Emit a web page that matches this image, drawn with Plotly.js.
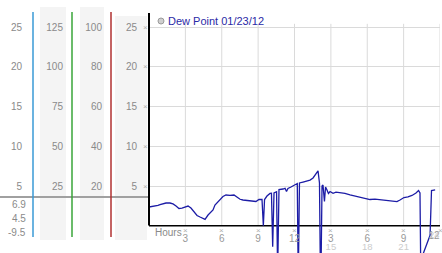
<!DOCTYPE html>
<html>
<head>
<meta charset="utf-8">
<script src="https://cdn.plot.ly/plotly-3.0.1.min.js"></script>
<style>html,body{margin:0;padding:0;background:#fff;}#chart{width:442px;height:253px;}</style>
</head>
<body>
<div id="chart"></div>
<script>
// ---- data ----
const hours = [0.00,0.25,0.49,0.74,0.91,1.15,1.40,1.73,1.98,2.23,2.47,2.72,2.97,3.22,3.46,3.71,3.96,4.21,4.45,4.62,
  4.87,5.11,5.28,5.44,5.61,5.86,6.10,6.35,6.68,7.01,7.26,7.51,7.75,8.08,8.49,8.82,9.07,9.32,9.43,9.53,
  9.73,9.98,10.10,10.20,10.31,10.52,10.61,10.72,11.05,11.22,11.34,11.46,11.71,12.04,12.23,12.31,12.41,12.70,13.03,13.28,
  13.53,13.69,13.86,13.94,14.06,14.16,14.27,14.35,14.47,14.56,14.68,14.80,14.93,15.18,15.42,15.75,16.16,16.58,16.99,17.40,
  17.81,18.23,18.64,19.05,19.46,19.88,20.21,20.45,20.70,21.03,21.36,21.69,22.02,22.23,22.35,22.43,22.52,23.18,23.30,23.60];
const dewPoint = [2.36,2.42,2.40,2.55,2.65,2.80,2.86,2.86,2.74,2.48,2.17,2.23,2.40,2.48,2.23,1.73,1.29,1.10,0.91,0.81,
  1.35,1.73,1.98,2.61,2.92,3.30,3.68,3.87,3.81,3.87,3.55,3.33,3.24,3.18,3.05,3.05,3.30,3.30,0.00,3.30,
  3.74,4.06,4.08,-2.64,4.12,4.28,-6.0,4.56,4.62,4.71,4.31,4.69,4.87,5.19,5.31,-7.0,5.38,5.50,5.63,5.75,
  6.01,6.32,6.70,6.90,5.38,-9.5,5.00,5.13,3.05,4.87,4.50,4.06,4.31,4.08,4.22,4.16,4.06,3.87,3.74,3.58,
  3.45,3.30,3.36,3.30,3.20,3.15,3.05,3.03,3.24,3.55,3.62,3.81,4.12,4.43,4.12,-8.0,-3.9,-1.2,4.43,4.50];
const legendLabel = 'Dew Point 01/23/12';
const dewTicks = [5, 10, 15, 20, 25];
const col2Ticks = [25, 50, 75, 100, 125];
const col3Ticks = [20, 40, 60, 80, 100];
const hourTicks = [3, 6, 9, 12, 15, 18, 21, 24];
const hourLabels = ['3', '6', '9', '12', '3', '6', '9', '12'];
const hourLabels2 = ['', '', '', '', '15', '18', '21', '24'];
const summaryLabels = ['6.9', '4.5', '-9.5'];

// ---- geometry helpers (pixel -> paper) ----
const W = 442, H = 253, ML = 0, MR = 2, MT = 13, MB = 0;
const PW = W - ML - MR, PH = H - MT - MB;
const fx = x => (x - ML) / PW;
const fy = y => (H - MB - y) / PH;
const yLo = -3.428, yHi = 26.761;

const FONT = 'Liberation Sans, Arial, sans-serif';
const lblFont = {family: FONT, size: 10, color: '#8a8a8a'};
const markFont = {family: FONT, size: 8, color: '#b0b0b0'};
const row1Font = {family: FONT, size: 10, color: '#999'};
const row2Font = {family: FONT, size: 9.5, color: '#cccccc'};

const traces = [
  {x: hours, y: dewPoint, type: 'scatter', mode: 'lines', line: {color: '#1c1ca6', width: 1.3}, showlegend: false, hoverinfo: 'none'}
];
['x2', 'x3', 'x4', 'x5'].forEach(a => traces.push({x: [], y: [], xaxis: a, yaxis: 'y', type: 'scatter', showlegend: false}));
['y2', 'y3', 'y4'].forEach(a => traces.push({x: [], y: [], xaxis: 'x', yaxis: a, type: 'scatter', showlegend: false}));

const shapes = [];
// shaded columns
[[40, 66, 7], [80, 104, 7], [115, 147, 16]].forEach(c => shapes.push({
  type: 'rect', xref: 'paper', yref: 'paper', x0: fx(c[0]), x1: fx(c[1]), y0: fy(240), y1: fy(c[2]),
  fillcolor: '#f4f4f4', line: {width: 0}, layer: 'below'}));
// separator
shapes.push({type: 'line', xref: 'paper', yref: 'paper', x0: fx(0), x1: fx(149), y0: fy(197), y1: fy(197), line: {color: '#a0a0a0', width: 2}});
// coloured axis lines
[[33, '#3a9ad6'], [72, '#3aa63a'], [111, '#b03030']].forEach(c => shapes.push({
  type: 'line', xref: 'paper', yref: 'paper', x0: fx(c[0]), x1: fx(c[0]), y0: fy(237), y1: fy(12), line: {color: c[1], width: 1.5}}));
// vertical grid
hourTicks.forEach(h => shapes.push({type: 'line', xref: 'x', yref: 'y', x0: h, x1: h, y0: 0, y1: 25.4, line: {color: '#dadada', width: 1}, layer: 'below'}));
// axis lines
shapes.push({type: 'line', xref: 'x', yref: 'y', x0: 0, x1: 24, y0: 0, y1: 0, line: {color: '#000', width: 1.6}, layer: 'below'});
shapes.push({type: 'line', xref: 'paper', yref: 'paper', x0: fx(149), x1: fx(149), y0: fy(225.5), y1: fy(13), line: {color: '#000', width: 2}});
// legend dot
shapes.push({type: 'circle', xref: 'paper', yref: 'paper', x0: fx(158), x1: fx(164), y0: fy(24), y1: fy(18), fillcolor: '#cfcfcf', line: {color: '#9a9a9a', width: 1}});

const annotations = [];
annotations.push({xref: 'paper', yref: 'paper', x: fx(166), y: fy(20.5), xanchor: 'left', yanchor: 'middle', showarrow: false,
  text: legendLabel, font: {family: FONT, size: 11, color: '#2a2aa6'}});
annotations.push({xref: 'paper', yref: 'paper', x: fx(153), y: fy(232), xanchor: 'left', yanchor: 'middle', showarrow: false,
  text: 'Hours', font: {family: FONT, size: 10, color: '#8a8a8a'}});
summaryLabels.forEach((s, i) => annotations.push({xref: 'paper', yref: 'paper', x: fx(27.5), y: fy([204, 218.5, 232][i]),
  xanchor: 'right', yanchor: 'middle', showarrow: false, text: s, font: lblFont}));
hourTicks.forEach(h => annotations.push({xref: 'x', yref: 'paper', x: h, y: fy(230.5), xanchor: 'center', yanchor: 'middle',
  showarrow: false, text: '×', font: markFont}));
dewTicks.forEach(v => annotations.push({xref: 'paper', yref: 'y', x: fx(145), y: v, xanchor: 'center', yanchor: 'middle',
  showarrow: false, text: '×', font: markFont}));

const lastIdx = hourTicks.length - 1;
const xLabelAxis = (vals, text, len, font, extra) => Object.assign({
  overlaying: 'x', anchor: 'free', position: fy(225.75), side: 'bottom', range: [0, 24], tickvals: vals, ticktext: text,
  ticks: 'outside', ticklen: len, tickcolor: 'rgba(0,0,0,0)', showgrid: false, zeroline: false, showline: false,
  ticklabeloverflow: 'allow', tickfont: font}, extra || {});

const baseY = {showgrid: false, zeroline: false, showline: false, ticks: '', tickfont: lblFont, fixedrange: true};
const layout = {
  width: W, height: H, margin: {l: ML, r: MR, t: MT, b: MB, pad: 0},
  paper_bgcolor: '#fff', plot_bgcolor: '#fff', showlegend: false,
  xaxis: {domain: [fx(149), 1], range: [0, 24], showgrid: false, zeroline: false, showline: false, showticklabels: false, ticks: ''},
  xaxis2: xLabelAxis(hourTicks.slice(0, lastIdx), hourLabels.slice(0, lastIdx), 3, row1Font),
  xaxis3: xLabelAxis(hourTicks.slice(0, lastIdx), hourLabels2.slice(0, lastIdx), 11.5, row2Font),
  xaxis4: xLabelAxis(hourTicks.slice(lastIdx), hourLabels.slice(lastIdx), 3, row1Font, {ticklabelposition: 'outside left'}),
  xaxis5: xLabelAxis(hourTicks.slice(lastIdx), hourLabels2.slice(lastIdx), 11.5, row2Font, {ticklabelposition: 'outside left'}),
  yaxis: Object.assign({}, baseY, {range: [yLo, yHi], tickvals: dewTicks, showgrid: true, gridcolor: '#dadada', gridwidth: 1,
    ticks: 'outside', ticklen: 9, tickcolor: 'rgba(0,0,0,0)'}),
  yaxis2: Object.assign({}, baseY, {overlaying: 'y', anchor: 'free', position: fx(22), side: 'left', range: [yLo, yHi], tickvals: dewTicks}),
  yaxis3: Object.assign({}, baseY, {overlaying: 'y', anchor: 'free', position: fx(63), side: 'left', range: [yLo * 5, yHi * 5], tickvals: col2Ticks}),
  yaxis4: Object.assign({}, baseY, {overlaying: 'y', anchor: 'free', position: fx(102), side: 'left', range: [yLo * 4, yHi * 4], tickvals: col3Ticks}),
  shapes: shapes, annotations: annotations
};
Plotly.newPlot('chart', traces, layout, {staticPlot: true, displayModeBar: false});
</script>
</body>
</html>
